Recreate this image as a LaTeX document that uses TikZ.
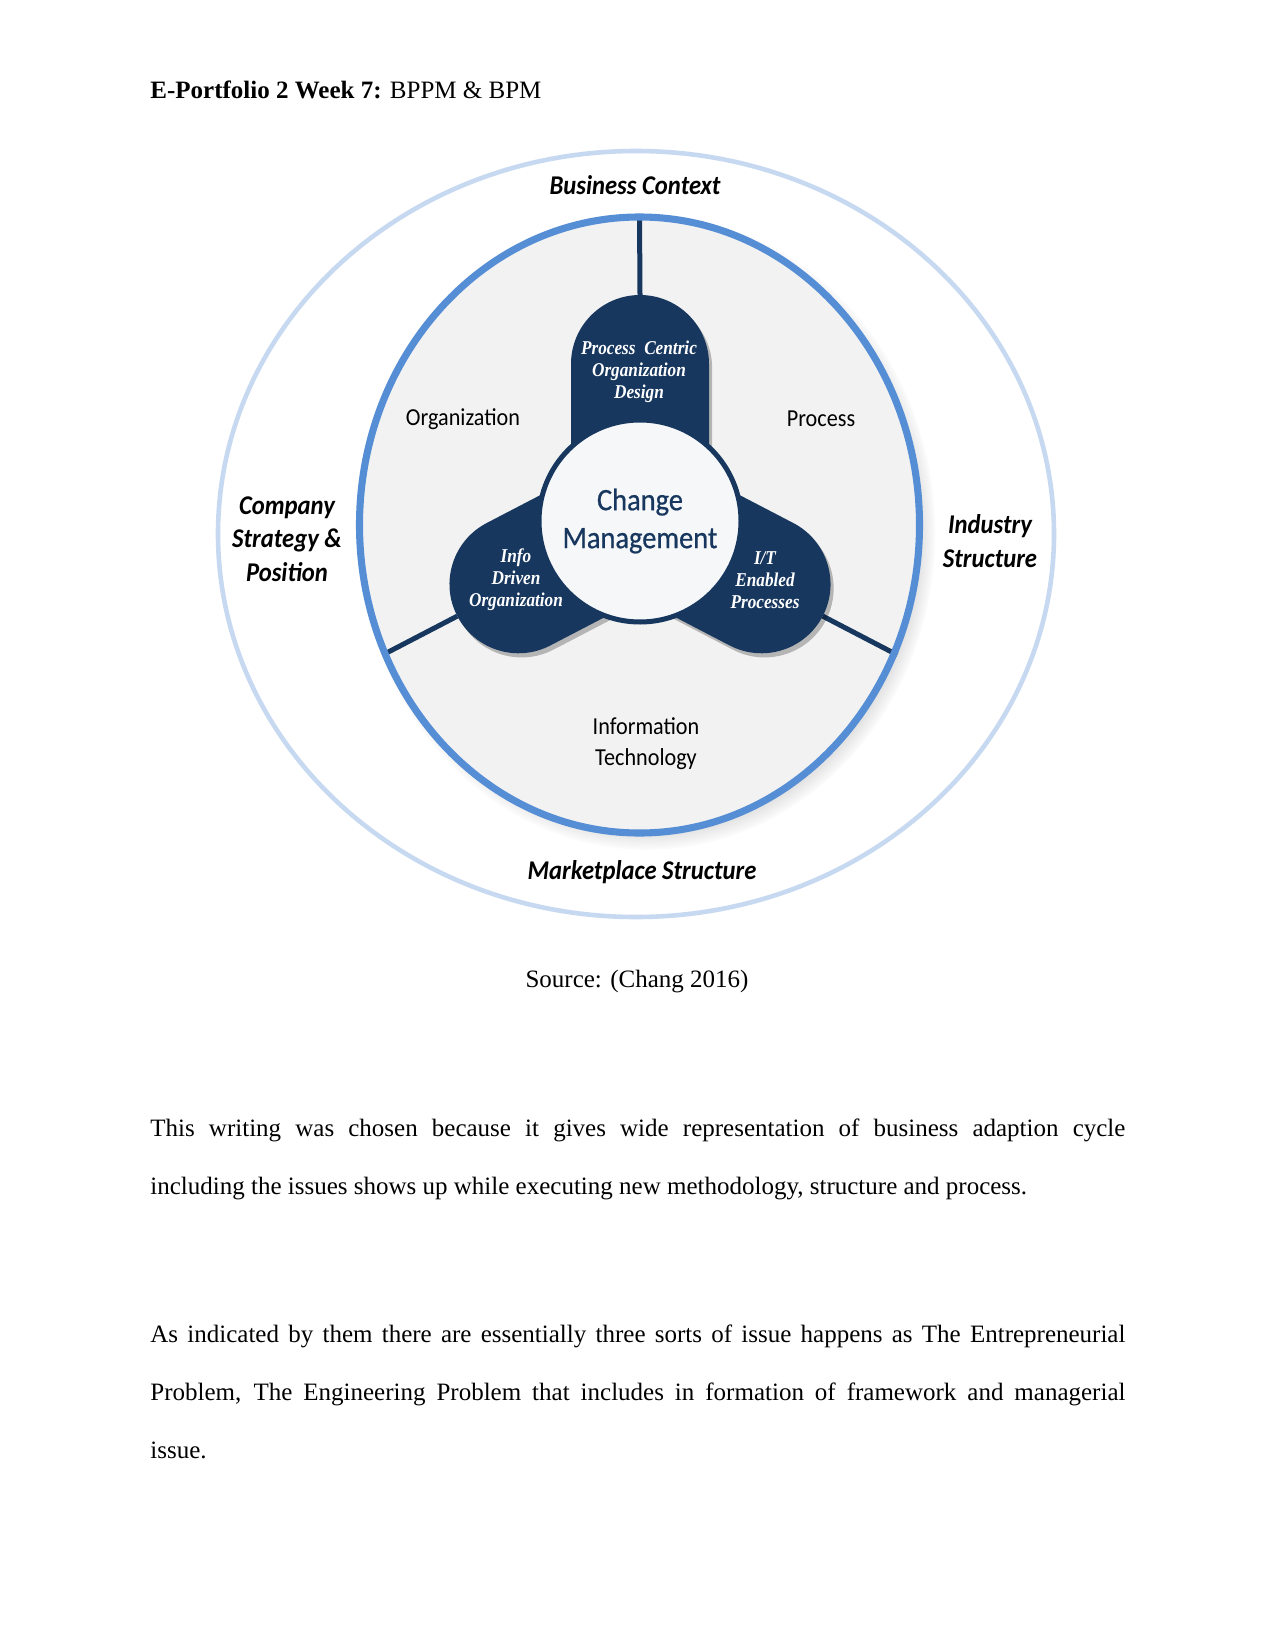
\documentclass[tikz,border=0pt]{standalone}
\usepackage{fontspec}
\setmainfont{Liberation Serif}
\newfontfamily\calib[FakeStretch=0.91]{Carlito}
\newfontfamily\calibheavy[FakeStretch=0.91,FakeBold=0.6]{Carlito}
\newfontfamily\lobeserif[FakeStretch=0.88]{Liberation Serif}
\usetikzlibrary{shadows,calc,fadings}
\definecolor{navy}{HTML}{17375E}
\definecolor{ringblue}{HTML}{558ED5}
\definecolor{outerblue}{HTML}{C6D9F1}
\definecolor{diskgray}{HTML}{F2F2F2}
\definecolor{centerfill}{HTML}{F6F7F9}
\tikzset{
  bodytext/.style={inner sep=0pt, font=\fontsize{12}{14}\selectfont},
  innerlabel/.style={inner sep=0pt, align=center, font=\calib\fontsize{11.7}{14.7}\selectfont},
  outerlabel/.style={inner sep=0pt, align=center, font=\calib\bfseries\itshape\fontsize{13}{16.2}\selectfont},
  lobelabel/.style={inner sep=0pt, align=center, text=white, font=\lobeserif\bfseries\itshape\fontsize{9.4}{10.5}\selectfont},
  connector/.style={draw=navy, line width=2.4pt},
  lobe/.style={fill=navy, drop shadow={shadow xshift=1.5pt, shadow yshift=-2pt, opacity=0.25, fill=black}},
}
\begin{document}
\begin{tikzpicture}[x=0.48pt,y=0.48pt]
\useasboundingbox (0,0) rectangle (1275,-1651);
\fill[white] (0,0) rectangle (1275,-1651);

% title
\node[bodytext, anchor=base west] (title) at (150,-99) {\textbf{E-Portfolio 2 Week 7:} BPPM \& BPM};

% outer ellipse
\draw[outerblue, line width=2.2pt] (636,-534) ellipse [x radius=418, y radius=383];

% inner disk
\fill[diskgray, circular drop shadow={shadow scale=1.03, shadow xshift=3.5pt, shadow yshift=-3.5pt, opacity=0.6}] (639.5,-525) ellipse [x radius=280, y radius=308];

\coordinate (C) at (640,-521);
% connector end points
\coordinate (ringtop) at (639.5,-215);
\coordinate (toptip) at ($(C)+(90:226)$);
\coordinate (lefttip) at ($(C)+(207.5:206)$);
\coordinate (ringleft) at ($(C)+(207.5:290)$);
\coordinate (righttip) at ($(C)+(332.5:206)$);
\coordinate (ringright) at ($(C)+(332.5:290)$);

\draw[connector] (ringtop) -- (toptip);
\draw[connector] (lefttip) -- (ringleft);
\draw[connector] (righttip) -- (ringright);

% lobes
\foreach \ang/\len in {90/157, 207.5/137, 332.5/137}{
  \begin{scope}[shift={(C)}, rotate=\ang]
    \path[lobe] (0,-69) -- (\len,-69) arc[start angle=-90, end angle=90, radius=69] -- (0,69) -- cycle;
  \end{scope}
}

% center circle
\draw[fill=centerfill, draw=navy, line width=2.4pt] (C) circle [radius=101];

% blue ring
\draw[ringblue, line width=3.4pt] (639.5,-525) ellipse [x radius=280, y radius=308];

% labels
\node[outerlabel] (bc) at (635,-185) {Business Context};
\node[outerlabel] (ms) at (642,-872) {Marketplace Structure};
\node[outerlabel] (cs) at (287,-539) {Company\\Strategy \&\\Position};
\node[outerlabel] (is) at (990,-541) {Industry\\Structure};

\node[innerlabel] (org) at (463,-419) {Organization};
\node[innerlabel] (proc) at (821,-419) {Process};
\node[innerlabel] (it) at (646,-743.5) {Information\\Technology};

\node[inner sep=0pt, align=center, text=navy, font=\calibheavy\fontsize{15}{18.2}\selectfont] (cm) at (640,-521) {Change\\Management};

\node[lobelabel] (pcod) at (639,-372) {Process\ \ Centric\\Organization\\Design};
\node[lobelabel] (ido) at (516,-580) {Info\\Driven\\Organization};
\node[lobelabel] (itep) at (765,-580) {I/T\\Enabled\\Processes};

% source
\node[bodytext] (src) at (637,-982) {Source: (Chang 2016)};

% body text
\node[bodytext, anchor=base west] (p1a) at (150,-1136) {\makebox[468pt][s]{This writing was chosen because it gives wide representation of business adaption cycle}};
\node[bodytext, anchor=base west] (p1b) at (150,-1194) {including the issues shows up while executing new methodology, structure and process.};
\node[bodytext, anchor=base west] (p2a) at (150,-1342) {\makebox[468pt][s]{As indicated by them there are essentially three sorts of issue happens as The Entrepreneurial}};
\node[bodytext, anchor=base west] (p2b) at (150,-1400) {\makebox[468pt][s]{Problem, The Engineering Problem that includes in formation of framework and managerial}};
\node[bodytext, anchor=base west] (p2c) at (150,-1458) {issue.};
\end{tikzpicture}
\end{document}
